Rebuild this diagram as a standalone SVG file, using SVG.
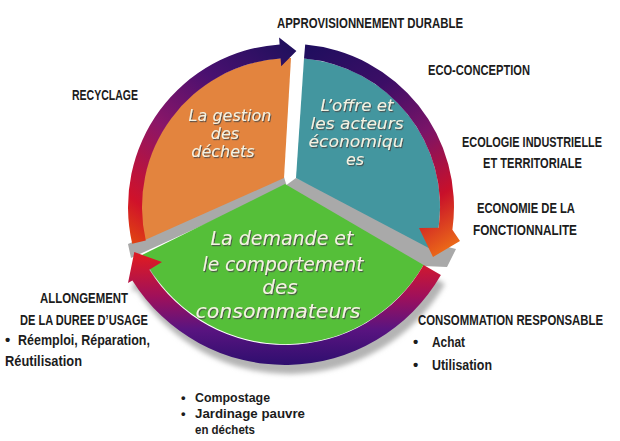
<svg xmlns="http://www.w3.org/2000/svg" width="620" height="441" viewBox="0 0 620 441">
  <defs>
    <linearGradient id="gOrangeRing" gradientUnits="userSpaceOnUse" x1="130" y1="245" x2="285" y2="45">
      <stop offset="0" stop-color="#E2480F"/>
      <stop offset="0.15" stop-color="#D0122A"/>
      <stop offset="0.45" stop-color="#8A1668"/>
      <stop offset="0.72" stop-color="#4A1070"/>
      <stop offset="1" stop-color="#22105E"/>
    </linearGradient>
    <linearGradient id="gTealRing" gradientUnits="userSpaceOnUse" x1="305" y1="45" x2="440" y2="255">
      <stop offset="0" stop-color="#1E0E5E"/>
      <stop offset="0.3" stop-color="#3C0E66"/>
      <stop offset="0.55" stop-color="#7A1468"/>
      <stop offset="0.8" stop-color="#C8102A"/>
      <stop offset="1" stop-color="#EC6A18"/>
    </linearGradient>
    <linearGradient id="gGreenRing" gradientUnits="userSpaceOnUse" x1="0" y1="258" x2="0" y2="367">
      <stop offset="0" stop-color="#DA1A26"/>
      <stop offset="0.35" stop-color="#A0105A"/>
      <stop offset="0.65" stop-color="#5A1480"/>
      <stop offset="1" stop-color="#2C0E6E"/>
    </linearGradient>
    <filter id="blur" x="-10%" y="-10%" width="120%" height="120%">
      <feGaussianBlur stdDeviation="2.5"/>
    </filter>
    <filter id="ts" x="-10%" y="-20%" width="120%" height="150%">
      <feDropShadow dx="1" dy="1.2" stdDeviation="0.6" flood-color="#4a4a4a" flood-opacity="0.85"/>
    </filter>
    <style>
      .inner { font-family: "DejaVu Sans", "Liberation Sans", sans-serif; font-style: oblique; fill: #F4F2E2; text-anchor: middle; filter: url(#ts); }
      .lbl { font-family: "Liberation Sans", Arial, sans-serif; font-weight: bold; font-size: 15px; fill: #1C1C1C; }
      .small { font-family: "Liberation Sans", Arial, sans-serif; font-weight: bold; font-size: 13px; fill: #1C1C1C; }
      .gray { fill: #A9A9A9; }
    </style>
  </defs>

  <rect width="620" height="441" fill="#FFFFFF"/>

  <g id="shadows">
    <path d="M 423.6,265 L 440.9,275 A 180 180 0 0 1 132.4,280.4 L 128,283 L 134.3,252.1 L 162,262 L 149.3,269.8 A 160 160 0 0 0 423.6,265 Z" fill="#B4B4B4" transform="translate(4,9)" filter="url(#blur)"/>
    <polygon class="gray" points="284,177 128,244 131,258 287,187"/>
    <polygon class="gray" points="296,178 436,244 456,249 447,267 423,266 285,186"/>
  </g>

  <g id="node-gestion">
    <path d="M 284,178 L 291,58 A 149 149 0 0 0 145,240 Z" fill="#E3843E"/>
    <text class="inner" font-size="16" x="230" y="121">La gestion</text>
    <text class="inner" font-size="16" x="225" y="139">des</text>
    <text class="inner" font-size="16" x="223" y="157">déchets</text>
  </g>

  <g id="node-offre">
    <path d="M 296,178 L 304,58.6 A 149 149 0 0 1 433.5,250.6 Z" fill="#43969F"/>
    <text class="inner" font-size="16" x="357" y="111" textLength="73" lengthAdjust="spacingAndGlyphs">L’offre et</text>
    <text class="inner" font-size="16" x="357" y="129" textLength="93" lengthAdjust="spacingAndGlyphs">les acteurs</text>
    <text class="inner" font-size="16" x="356" y="147" textLength="95" lengthAdjust="spacingAndGlyphs">économiqu</text>
    <text class="inner" font-size="16" x="355" y="165">es</text>
  </g>

  <g id="node-demande">
    <path d="M 285,184 L 423.6,265 A 160 160 0 0 1 142,255 Z" fill="#55BF39"/>
    <text class="inner" font-size="20" x="282" y="245" textLength="143" lengthAdjust="spacingAndGlyphs">La demande et</text>
    <text class="inner" font-size="20" x="283" y="271" textLength="161" lengthAdjust="spacingAndGlyphs">le comportement</text>
    <text class="inner" font-size="20" x="280" y="294">des</text>
    <text class="inner" font-size="20" x="278" y="318" textLength="165" lengthAdjust="spacingAndGlyphs">consommateurs</text>
  </g>

  <g id="connectors">
    <path id="arrow-gestion" d="M 145.8,240.5 L 132.2,243.7 A 163 163 0 0 1 279.6,44.4 L 279.1,37.4 L 296.4,51.1 L 281.2,66.3 L 280.6,58.4 A 149 149 0 0 0 145.8,240.5 Z" fill="url(#gOrangeRing)"/>
    <path id="arrow-offre" d="M 304,58.6 L 305.2,44.6 A 163 163 0 0 1 452.4,229.7 L 460,241 L 433,257 L 419,228 L 438.6,227.7 A 149 149 0 0 0 304,58.6 Z" fill="url(#gTealRing)"/>
    <path id="arrow-demande" d="M 423.6,265 L 440.9,275 A 180 180 0 0 1 132.4,280.4 L 128,283 L 134.3,252.1 L 162,262 L 149.3,269.8 A 160 160 0 0 0 423.6,265 Z" fill="url(#gGreenRing)"/>
  </g>

  <g id="label-approvisionnement">
    <text class="lbl" transform="translate(277,28) scale(0.78,1)" textLength="238.5" lengthAdjust="spacingAndGlyphs">APPROVISIONNEMENT DURABLE</text>
  </g>
  <g id="label-eco-conception">
    <text class="lbl" transform="translate(428,75) scale(0.78,1)" textLength="130.8" lengthAdjust="spacingAndGlyphs">ECO-CONCEPTION</text>
  </g>
  <g id="label-recyclage">
    <text class="lbl" transform="translate(72,100) scale(0.78,1)" textLength="84.6" lengthAdjust="spacingAndGlyphs">RECYCLAGE</text>
  </g>
  <g id="label-ecologie">
    <text class="lbl" transform="translate(462,147) scale(0.78,1)" textLength="179.5" lengthAdjust="spacingAndGlyphs">ECOLOGIE INDUSTRIELLE</text>
    <text class="lbl" transform="translate(483,168) scale(0.78,1)" textLength="126.9" lengthAdjust="spacingAndGlyphs">ET TERRITORIALE</text>
  </g>
  <g id="label-economie">
    <text class="lbl" transform="translate(477,213) scale(0.78,1)" textLength="125.6" lengthAdjust="spacingAndGlyphs">ECONOMIE DE LA</text>
    <text class="lbl" transform="translate(473,235) scale(0.78,1)" textLength="133.3" lengthAdjust="spacingAndGlyphs">FONCTIONNALITE</text>
  </g>
  <g id="label-consommation">
    <text class="lbl" transform="translate(418,325) scale(0.78,1)" textLength="237.2" lengthAdjust="spacingAndGlyphs">CONSOMMATION RESPONSABLE</text>
    <text class="lbl" x="413" y="347">•</text>
    <text class="lbl" transform="translate(432,347) scale(0.78,1)" textLength="42.3" lengthAdjust="spacingAndGlyphs">Achat</text>
    <text class="lbl" x="413" y="370">•</text>
    <text class="lbl" transform="translate(432,370) scale(0.78,1)" textLength="76.9" lengthAdjust="spacingAndGlyphs">Utilisation</text>
  </g>
  <g id="label-allongement">
    <text class="lbl" transform="translate(40,303) scale(0.78,1)" textLength="112.8" lengthAdjust="spacingAndGlyphs">ALLONGEMENT</text>
    <text class="lbl" transform="translate(20,325) scale(0.78,1)" textLength="164.1" lengthAdjust="spacingAndGlyphs">DE LA DUREE D’USAGE</text>
    <text class="lbl" x="5" y="345">•</text>
    <text class="lbl" transform="translate(18,345) scale(0.78,1)" textLength="169.2" lengthAdjust="spacingAndGlyphs">Réemploi, Réparation,</text>
    <text class="lbl" transform="translate(5,366) scale(0.78,1)" textLength="98.7" lengthAdjust="spacingAndGlyphs">Réutilisation</text>
  </g>
  <g id="label-compostage">
    <text class="small" x="181" y="402">•</text>
    <text class="small" transform="translate(195,402) scale(0.78,1)" textLength="96.2" lengthAdjust="spacingAndGlyphs">Compostage</text>
    <text class="small" x="181" y="418">•</text>
    <text class="small" transform="translate(195,418) scale(0.78,1)" textLength="141" lengthAdjust="spacingAndGlyphs">Jardinage  pauvre</text>
    <text class="small" transform="translate(195,434) scale(0.78,1)" textLength="76.9" lengthAdjust="spacingAndGlyphs">en déchets</text>
  </g>
</svg>
